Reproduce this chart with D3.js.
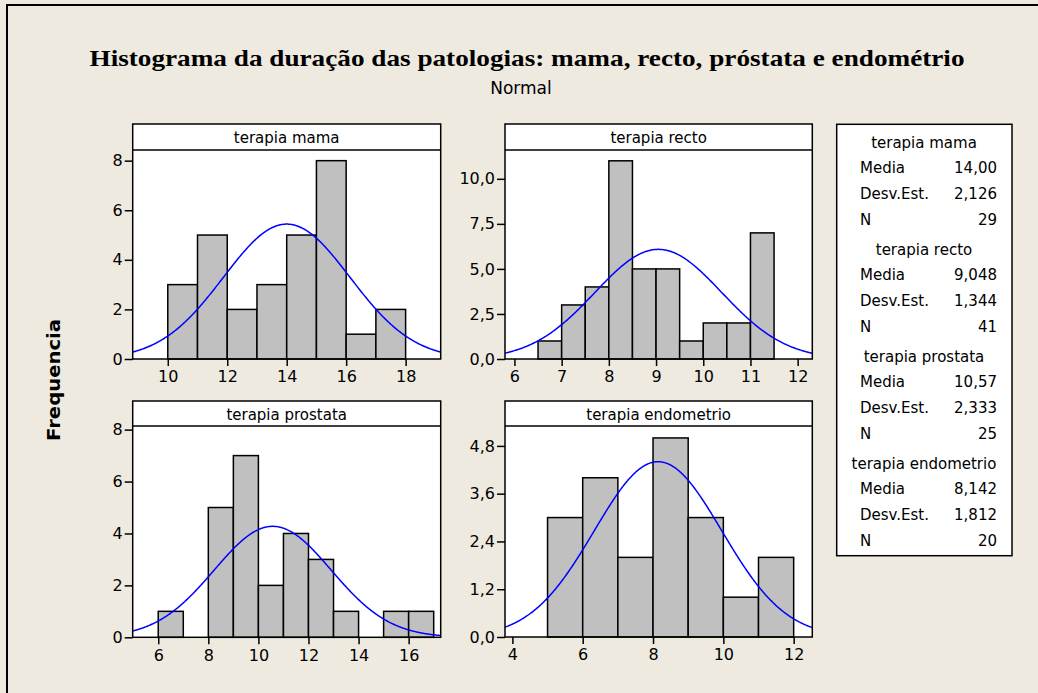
<!DOCTYPE html>
<html>
<head>
<meta charset="utf-8">
<title>Histograma da duração das patologias</title>
<script src="https://d3js.org/d3.v7.min.js"></script>
<style>
body { margin: 0; background: #eeeae0; }
svg text { font-family: "DejaVu Sans", sans-serif; fill: #000; }
</style>
</head>
<body>
<div id="container"></div>
<script>
// series (bin counts) and the fitted normal stats
var names = ["terapia mama", "terapia recto", "terapia prostata", "terapia endometrio"];
var binStart = [10, 6.5, 6, 5];
var binWidth = [1, 0.5, 1, 1];
var mamaCounts = [3, 5, 2, 3, 5, 8, 1, 2];
var rectoCounts = [1, 3, 4, 11, 5, 5, 1, 2, 2, 7];
var prostataCounts = [1, 0, 5, 7, 2, 4, 3, 1, 0, 1, 1];
var endometrioCounts = [3, 4, 2, 5, 3, 1, 2];
var counts = [mamaCounts, rectoCounts, prostataCounts, endometrioCounts];
var means = [14.00, 9.048, 10.57, 8.142];
var sds = [2.126, 1.344, 2.333, 1.812];
var ns = [29, 41, 25, 20];

// axes
var xDomains = [[8.82, 19.18], [5.80, 12.31], [4.98, 17.28], [3.79, 12.53]];
var yDomains = [[0, 8.43], [0, 11.6], [0, 8.14], [0, 5.30]];
var xTicks = [[10, 12, 14, 16, 18], [6, 7, 8, 9, 10, 11, 12], [6, 8, 10, 12, 14, 16], [4, 6, 8, 10, 12]];
var yTicks = [[0, 2, 4, 6, 8], [0, 2.5, 5, 7.5, 10], [0, 2, 4, 6, 8], [0, 1.2, 2.4, 3.6, 4.8]];
var yDecimals = [0, 1, 0, 1];

var W = 1038, H = 693;
var svg = d3.select("#container").append("svg")
	.attr("width", W)
	.attr("height", H);

svg.append("rect").attr("width", W).attr("height", H).attr("fill", "#eeeae0");
// outer frame (only left and top edges show)
svg.append("path").attr("d", "M7,700V5H1045").attr("fill", "none").attr("stroke", "#000").attr("stroke-width", 2);

var pt = d3.formatLocale({decimal: ",", thousands: ".", grouping: [3], currency: ["", ""]});

// titles
svg.append("text")
	.attr("x", 527).attr("y", 66)
	.attr("text-anchor", "middle")
	.attr("textLength", 875).attr("lengthAdjust", "spacingAndGlyphs")
	.style("font-family", "'Liberation Serif', serif")
	.style("font-weight", "bold")
	.style("font-size", "23px")
	.text("Histograma da duração das patologias: mama, recto, próstata e endométrio");

svg.append("text")
	.attr("x", 521).attr("y", 88)
	.attr("text-anchor", "middle")
	.attr("dominant-baseline", "central")
	.style("font-size", "17px")
	.text("Normal");

svg.append("text")
	.attr("transform", "translate(53,380) rotate(-90)")
	.attr("text-anchor", "middle")
	.attr("dominant-baseline", "central")
	.attr("textLength", 122).attr("lengthAdjust", "spacingAndGlyphs")
	.style("font-weight", "bold")
	.style("font-size", "18px")
	.text("Frequencia");

// panel boxes: left, right, top, header bottom, axis bottom
var boxes = [
	[132.7, 440.7, 124, 150, 359],
	[505, 812.3, 124, 150, 359],
	[132.7, 440.7, 401, 426, 637.3],
	[505, 812.3, 401, 426, 637]
];

names.forEach(function(name, i) {
	var b = boxes[i];
	var g = svg.append("g");
	var x = d3.scaleLinear().domain(xDomains[i]).range([b[0], b[1]]);
	var y = d3.scaleLinear().domain(yDomains[i]).range([b[4], b[3]]);
	var clipId = "clip" + i;

	g.append("clipPath").attr("id", clipId).append("rect")
		.attr("x", b[0]).attr("y", b[3]).attr("width", b[1] - b[0]).attr("height", b[4] - b[3]);

	g.append("rect")
		.attr("x", b[0]).attr("y", b[2]).attr("width", b[1] - b[0]).attr("height", b[4] - b[2])
		.attr("fill", "#fff");

	// bars
	g.selectAll("rect.bar").data(counts[i]).enter().append("rect")
		.attr("class", "bar")
		.attr("x", function(d, j) { return x(binStart[i] + j * binWidth[i]); })
		.attr("width", function(d, j) { return x(binStart[i] + (j + 1) * binWidth[i]) - x(binStart[i] + j * binWidth[i]); })
		.attr("y", function(d) { return y(d); })
		.attr("height", function(d) { return y(0) - y(d); })
		.attr("fill", "#c0c0c0")
		.attr("stroke", "#000")
		.attr("stroke-width", 1.5);

	// fitted normal curve, scaled to counts
	var k = ns[i] * binWidth[i] / (sds[i] * Math.sqrt(2 * Math.PI));
	var xs = d3.range(xDomains[i][0], xDomains[i][1], 0.02).concat([xDomains[i][1]]);
	var line = d3.line()
		.x(function(v) { return x(v); })
		.y(function(v) { var z = (v - means[i]) / sds[i]; return y(k * Math.exp(-0.5 * z * z)); });
	g.append("path").datum(xs)
		.attr("d", line)
		.attr("clip-path", "url(#" + clipId + ")")
		.attr("fill", "none")
		.attr("stroke", "#0000ff")
		.attr("stroke-width", 1.5);

	// axes
	var fmt = pt.format(yDecimals[i] ? ".1f" : "d");
	var xa = g.append("g").attr("transform", "translate(0," + b[4] + ")")
		.call(d3.axisBottom(x).tickValues(xTicks[i]).tickFormat(d3.format("d")).tickSize(7).tickPadding(5).tickSizeOuter(0));
	var ya = g.append("g").attr("transform", "translate(" + b[0] + ",0)")
		.call(d3.axisLeft(y).tickValues(yTicks[i]).tickFormat(fmt).tickSize(8).tickPadding(2).tickSizeOuter(0));
	[xa, ya].forEach(function(a) {
		a.select(".domain").remove();
		a.selectAll("line").attr("stroke", "#000").attr("stroke-width", 1.5);
		a.selectAll("text").style("font-size", "16px").attr("fill", "#000");
	});

	// header strip and frame
	g.append("line")
		.attr("x1", b[0]).attr("x2", b[1]).attr("y1", b[3]).attr("y2", b[3])
		.attr("stroke", "#000").attr("stroke-width", 1.5);
	g.append("rect")
		.attr("x", b[0]).attr("y", b[2]).attr("width", b[1] - b[0]).attr("height", b[4] - b[2])
		.attr("fill", "none").attr("stroke", "#000").attr("stroke-width", 1.5);
	g.append("text")
		.attr("x", (b[0] + b[1]) / 2).attr("y", (b[2] + b[3]) / 2 + 1)
		.attr("text-anchor", "middle")
		.attr("dominant-baseline", "central")
		.style("font-size", "15px")
		.text(name);
});

// stats box
svg.append("rect")
	.attr("x", 836.7).attr("y", 124.3).attr("width", 175.3).attr("height", 431.4)
	.attr("fill", "#fff").attr("stroke", "#000").attr("stroke-width", 1.5);

var fmt4 = pt.format(".4r");
names.forEach(function(name, i) {
	var y0 = 142.7 + i * 107;
	var rows = [["Media", fmt4(means[i])], ["Desv.Est.", fmt4(sds[i])], ["N", String(ns[i])]];
	svg.append("text")
		.attr("x", 924).attr("y", y0)
		.attr("text-anchor", "middle").attr("dominant-baseline", "central")
		.style("font-size", "15px")
		.text(name);
	rows.forEach(function(r, j) {
		var yy = y0 + 25.6 * (j + 1);
		svg.append("text")
			.attr("x", 860).attr("y", yy)
			.attr("dominant-baseline", "central")
			.style("font-size", "15px")
			.text(r[0]);
		svg.append("text")
			.attr("x", 997).attr("y", yy)
			.attr("text-anchor", "end").attr("dominant-baseline", "central")
			.style("font-size", "15px")
			.text(r[1]);
	});
});
</script>
</body>
</html>
